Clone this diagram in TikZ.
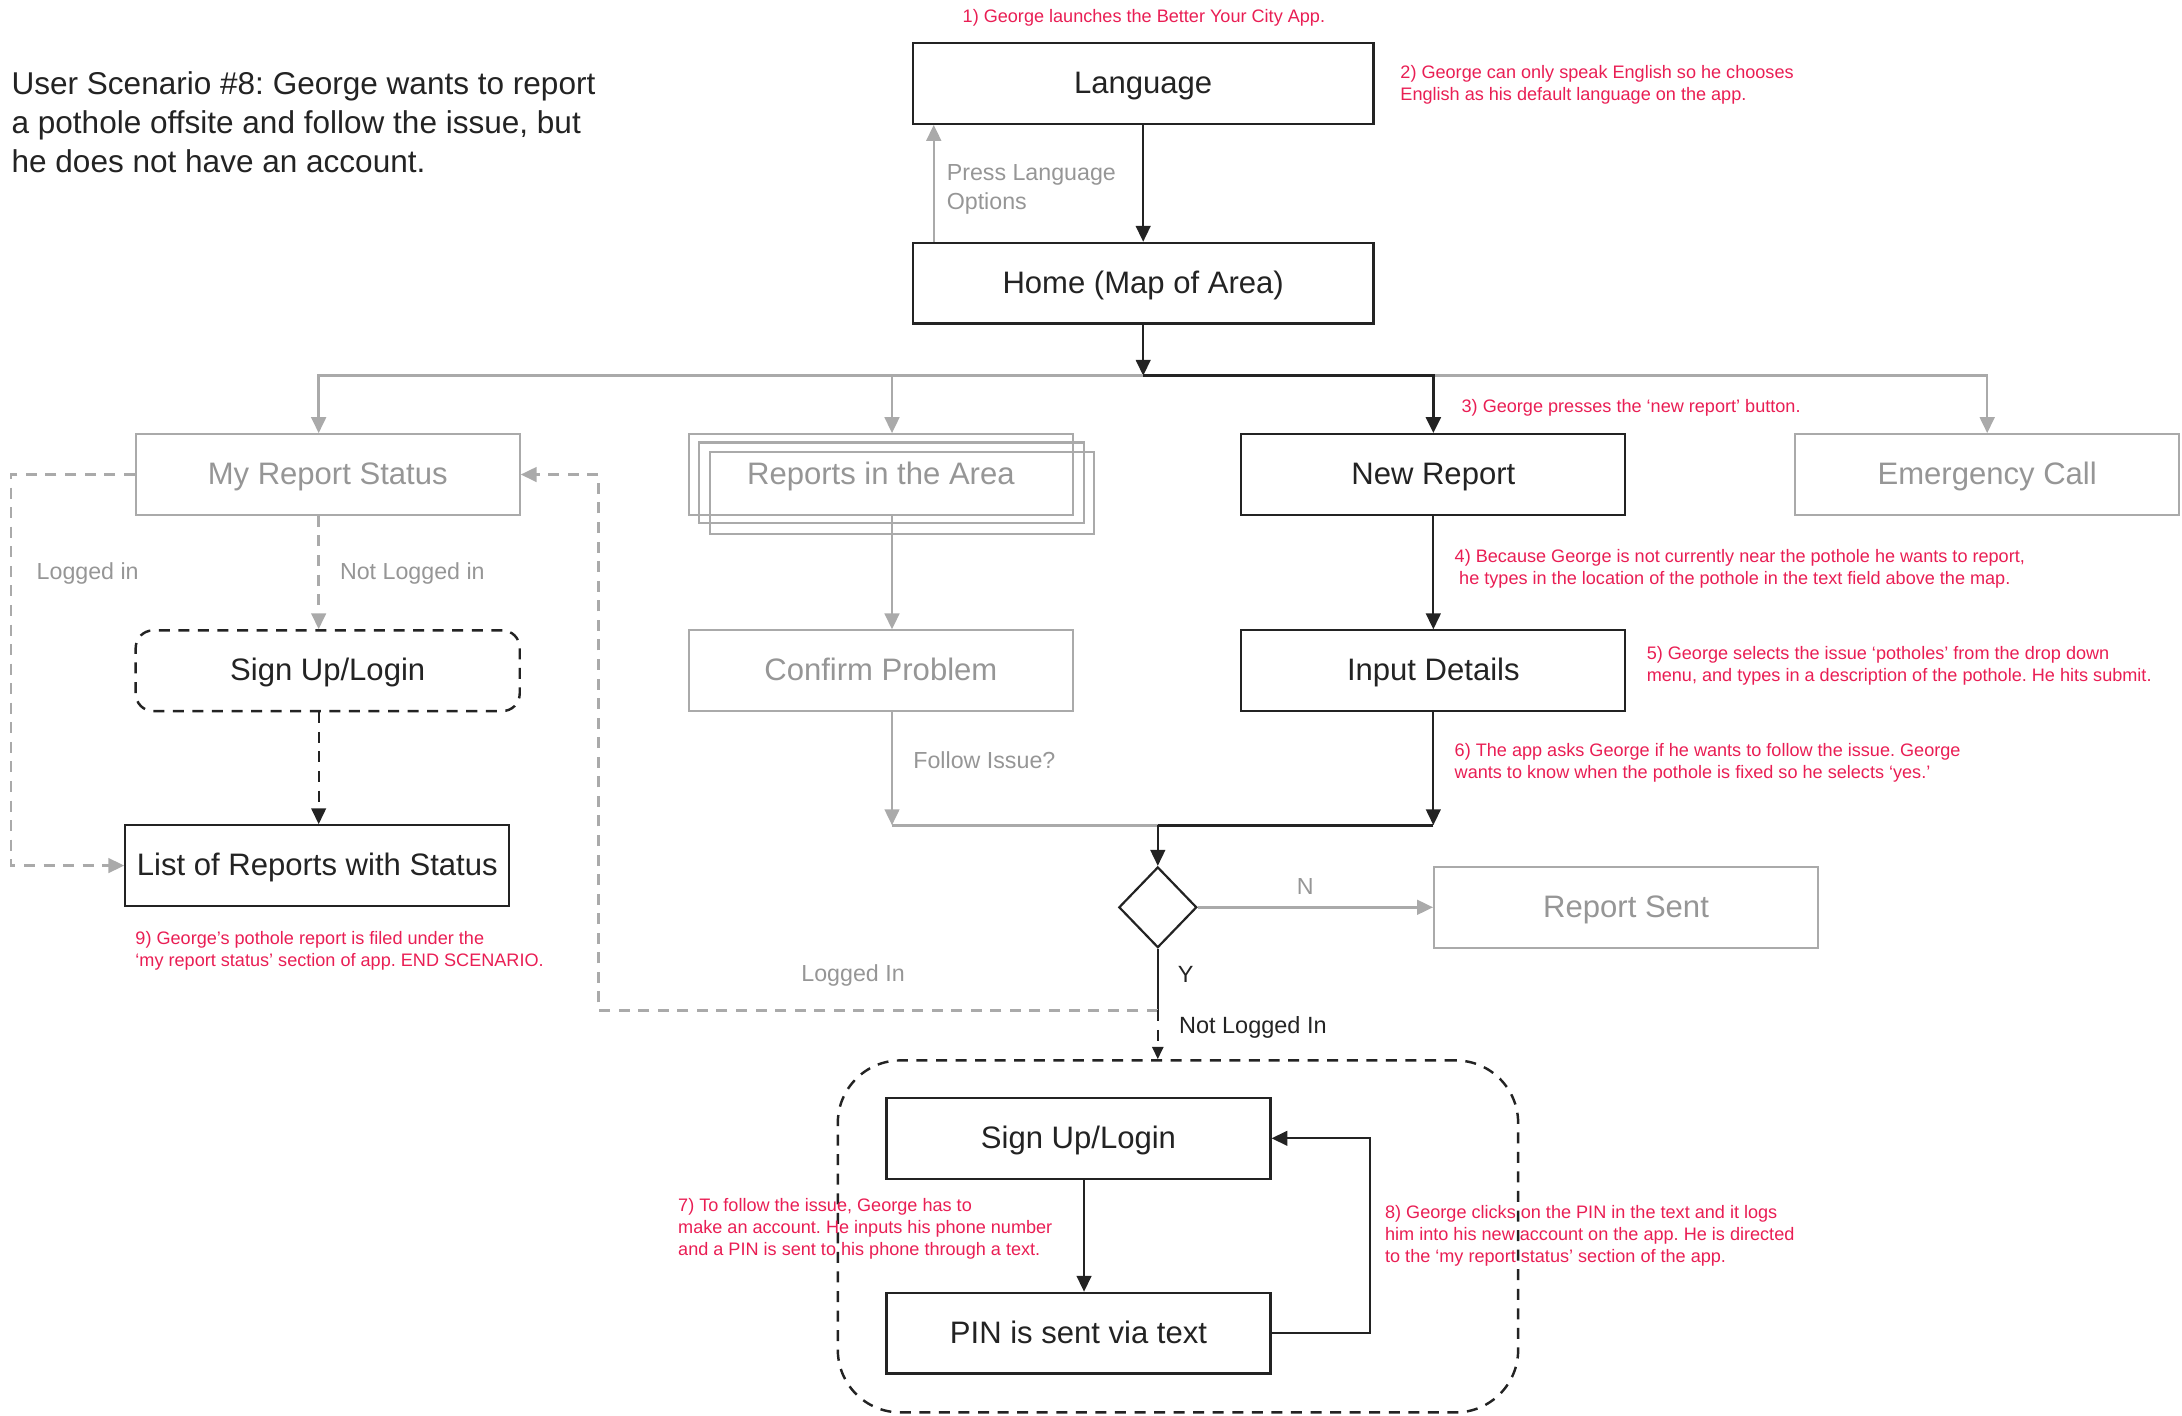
\documentclass[tikz,border=0pt]{standalone}
\usepackage{fontspec}
\setmainfont{Liberation Sans}
\usepackage{tikz}
\usetikzlibrary{arrows.meta}
\usetikzlibrary{shapes.geometric}
\frenchspacing

\definecolor{ink}{RGB}{35,35,35}
\definecolor{fade}{RGB}{170,170,170}
\definecolor{fadetext}{RGB}{150,150,150}
\definecolor{note}{RGB}{233,30,84}

\tikzset{
  screen/.style={draw=ink, line width=0.85pt, text=ink, minimum width=5.52cm, minimum height=1.16cm, inner sep=0pt, text height=0.85em, text depth=0.03em, font=\fontsize{12.7}{15}\selectfont},
  dimscreen/.style={screen, draw=fade, text=fadetext},
  remark/.style={text=note, font=\fontsize{7.4}{9.1}\selectfont, align=left, anchor=west, inner sep=0pt},
  hint/.style={text=fadetext, font=\fontsize{9.5}{11.8}\selectfont, align=left, anchor=west, inner sep=0pt},
  go/.style={draw=ink, line width=0.9pt, -{Triangle[length=6.5pt,width=6pt]}},
  dimgo/.style={draw=fade, line width=1pt, -{Triangle[length=6.5pt,width=6pt]}},
  brokenline/.style={dash pattern=on 4.5pt off 3.5pt}
}

\begin{document}
\begin{tikzpicture}[x=0.02cm, y=-0.02cm]
\useasboundingbox (0,0) rectangle (1568,1017.5);

\node[anchor=west, align=left, inner sep=0pt, text=ink, font=\fontsize{12.9}{15.9}\selectfont] (title) at (8,88)
  {User Scenario \#8: George wants to report\\a pothole offsite and follow the issue, but\\he does not have an account.};

\node[screen, minimum width=6.62cm] (lang) at (821.5,60) {Language};
\node[screen, minimum width=6.62cm] (home) at (821.5,203.5) {Home (Map of Area)};
\node[dimscreen] (status) at (235.5,341) {My Report Status};
\draw[fade, line width=0.85pt] (510,325) rectangle (786,384);
\draw[fade, line width=0.85pt] (502.5,318) rectangle (779,376);
\node[dimscreen] (area) at (633,341) {Reports in the Area};
\node[screen] (newrep) at (1030,341) {New Report};
\node[dimscreen] (emerg) at (1428,341) {Emergency Call};
\node[screen, brokenline, rounded corners=0.25cm, line width=1pt] (signa) at (235.5,482) {Sign Up/Login};
\node[dimscreen] (confirm) at (633,482) {Confirm Problem};
\node[screen] (input) at (1030,482) {Input Details};
\node[screen] (list) at (228,622) {List of Reports with Status};
\node[diamond, draw=ink, line width=0.9pt, minimum width=1.12cm, minimum height=1.16cm, inner sep=0pt] (ask) at (832,652) {};
\node[dimscreen] (sent) at (1168.5,652) {Report Sent};
\node[draw=ink, brokenline, line width=1pt, rounded corners=0.9cm, minimum width=9.78cm, minimum height=5.06cm] (group) at (846.5,888.5) {};
\node[screen] (signb) at (775,818) {Sign Up/Login};
\node[screen] (pin) at (775,958) {PIN is sent via text};

\coordinate (hub) at (821.5,270);
\coordinate (mg) at (832,593);
\coordinate (mgl) at (641,593);
\coordinate (mgr) at (1030,593);
\coordinate (yes) at (832,726);
\coordinate (back) at (430,726);
\coordinate (ca) at (229,0);
\coordinate (cb) at (641,0);
\coordinate (cl) at (671,0);
\coordinate (cf) at (779,0);

\draw[go] (lang) -- (home);
\draw[dimgo] (home.north -| cl) -- (lang.south -| cl);
\node[hint] (press) at (680,136) {Press Language\\Options};
\draw[go] (home) -- (hub);
\draw[dimgo] (hub) -| (status.north -| ca);
\draw[dimgo] (hub) -| (area.north -| cb);
\draw[dimgo] (hub) -| (emerg.north);
\draw[go, line width=1.3pt] (hub) -| (newrep.north);

\draw[dimgo, brokenline] (status.south -| ca) -- (signa.north -| ca);
\node[hint] (nli) at (244,412) {Not Logged in};
\draw[dimgo, brokenline] (status.west) -- ++(-89,0) |- (list.west);
\node[hint] (li) at (26,412) {Logged in};
\draw[go, brokenline] (signa.south -| ca) -- (list.north -| ca);

\draw[dimgo] (area.south -| cb) -- (confirm.north -| cb);
\draw[dimgo] (confirm.south -| cb) -- (mgl);
\node[hint] (follow) at (656,546) {Follow Issue?};
\draw[fade, line width=1.3pt] (mgl) -- (mg);
\draw[go] (newrep) -- (input);
\draw[go] (input) -- (mgr);
\draw[ink, line width=1.3pt] (mgr) -- (mg);
\draw[go] (mg) -- (ask.north);

\draw[dimgo] (ask.east) -- (sent.west);
\node[hint, anchor=center] (no) at (938,637) {N};
\draw[ink, line width=0.9pt] (ask.south) -- (yes);
\node[anchor=west, inner sep=0pt, text=ink, font=\fontsize{9.6}{11}\selectfont] (y) at (846,700) {Y};
\draw[dimgo, brokenline] (yes) -- (back) |- (status.east);
\node[hint, anchor=center] (lgin) at (613,701) {Logged In};
\draw[ink, brokenline, line width=0.9pt, -{Triangle[length=5pt,width=4.5pt]}] (yes) -- (group.north -| yes);
\node[anchor=west, inner sep=0pt, text=ink, font=\fontsize{9.6}{11}\selectfont] (nlin) at (847,738) {Not Logged In};

\draw[go] (signb.south -| cf) -- (pin.north -| cf);
\draw[go] (pin.east) -- ++(71,0) |- (signb.east);

\node[remark, anchor=center] (n1) at (822,13) {1) George launches the Better Your City App.};
\node[remark] (n2) at (1006,61) {2) George can only speak English so he chooses\\English as his default language on the app.};
\node[remark] (n3) at (1050,293) {3) George presses the ‘new report’ button.};
\node[remark] (n4) at (1045,409) {4) Because George is not currently near the pothole he wants to report,\\\hspace{0.25em}he types in the location of the pothole in the text field above the map.};
\node[remark] (n5) at (1183,478.5) {5) George selects the issue ‘potholes’ from the drop down\\menu, and types in a description of the pothole. He hits submit.};
\node[remark] (n6) at (1045,548) {6) The app asks George if he wants to follow the issue. George\\wants to know when the pothole is fixed so he selects ‘yes.’};
\node[remark] (n7) at (487,883) {7) To follow the issue, George has to\\make an account. He inputs his phone number\\and a PIN is sent to his phone through a text.};
\node[remark] (n8) at (995,888) {8) George clicks on the PIN in the text and it logs\\him into his new account on the app. He is directed\\to the ‘my report status’ section of the app.};
\node[remark] (n9) at (97,683) {9) George’s pothole report is filed under the\\‘my report status’ section of app. END SCENARIO.};
\end{tikzpicture}
\end{document}
